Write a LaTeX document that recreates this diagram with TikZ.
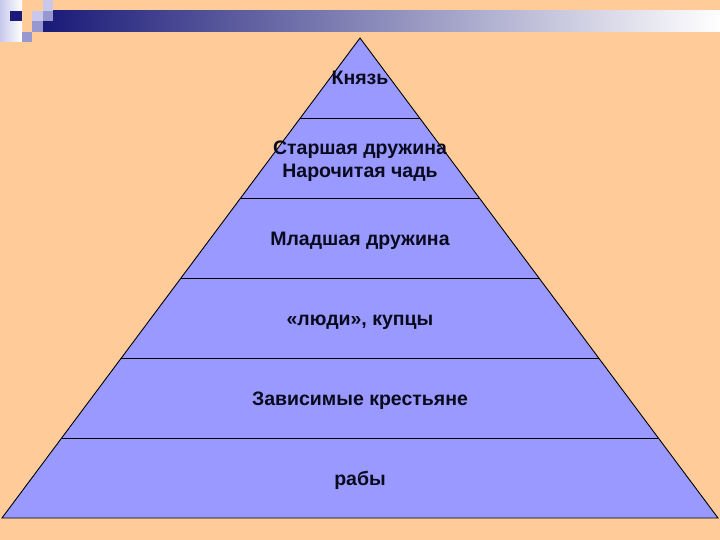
\documentclass[tikz,border=0pt]{standalone}
\usepackage{fontspec}
\setmainfont{Liberation Sans}
\definecolor{bgpeach}{HTML}{FFCC99}
\definecolor{pyrfill}{HTML}{9999FF}
\definecolor{navy}{HTML}{1A1A78}
\definecolor{lav}{HTML}{C8C8EC}
\definecolor{midlav}{HTML}{9898D0}
\definecolor{txt}{HTML}{0A0A1E}
\tikzset{
  lbl/.style={font=\fontsize{19.5}{23}\selectfont\bfseries, text=txt, inner sep=0pt, anchor=base},
  layerline/.style={draw=black, line width=0.9pt}
}
\begin{document}
\begin{tikzpicture}[x=1pt,y=-1pt]
\useasboundingbox (0,0) rectangle (720,540);
\fill[bgpeach] (0,0) rectangle (720,540);
% decoration top-left
\shade[left color=lav, right color=white] (0,0) rectangle (22,42);
\shade[left color=navy, right color=white] (43,11) rectangle (720,32);
\fill[navy] (10,11) rectangle (22,21);
\fill[lav] (32,11) rectangle (43,21);
\fill[lav] (43,0) rectangle (53,11);
\fill[midlav] (43,11) rectangle (53,21);
\fill[midlav] (32,21) rectangle (43,32);
\fill[midlav] (22,32) rectangle (32,42);
% pyramid
\coordinate (apex) at (360,38);
\coordinate (bl) at (2,518);
\coordinate (br) at (718,518);
\filldraw[fill=pyrfill, draw=black, line width=0.9pt] (apex) -- (br) -- (bl) -- cycle;
\foreach \yy in {118,198,278,358,438}{
  \pgfmathsetmacro{\dx}{0.74583*(\yy-38)}
  \draw[layerline] ({360-\dx},\yy) -- ({360+\dx},\yy);
}
\node[lbl] (k) at (360,85) {Князь};
\node[lbl] (s1) at (360,155) {Старшая дружина};
\node[lbl] (s2) at (360,178) {Нарочитая чадь};
\node[lbl] (m) at (360,245) {Младшая дружина};
\node[lbl] (l) at (360,325) {«люди», купцы};
\node[lbl] (z) at (360,405) {Зависимые крестьяне};
\node[lbl] (r) at (360,485) {рабы};
\end{tikzpicture}
\end{document}
